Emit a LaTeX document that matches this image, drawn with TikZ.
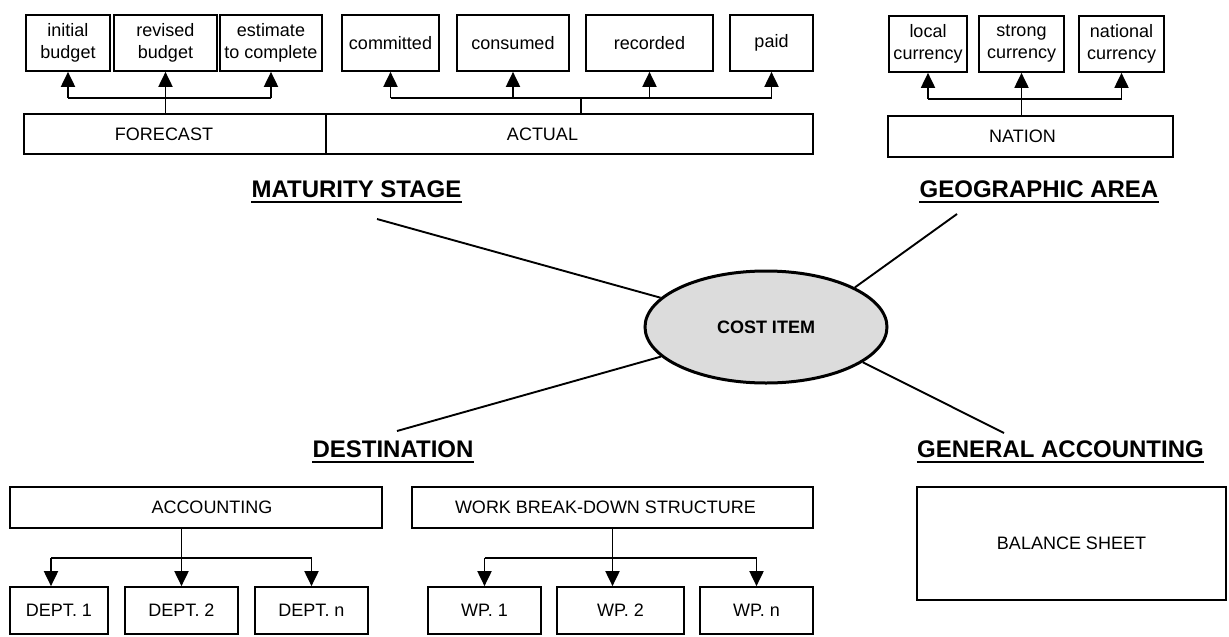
\documentclass[tikz,border=0pt]{standalone}
\usepackage{fontspec}
\setmainfont{Liberation Sans}
\usetikzlibrary{arrows.meta,calc,shapes.geometric}
\definecolor{ellgray}{HTML}{DCDCDC}
\begin{document}
\begin{tikzpicture}[x=1pt,y=-1pt,
  box/.style={draw,line width=1.7pt,inner sep=0pt,align=center,
    font=\fontsize{18}{22}\selectfont},
  lbl/.style={inner sep=0pt,font=\fontsize{18}{22}\selectfont},
  arr/.style={line width=1.9pt,-{Triangle[length=15pt,width=14pt]}},
  bus/.style={line width=1.9pt},
  link/.style={line width=1.9pt},
  head/.style={inner sep=0pt,anchor=base,font=\fontsize{24}{28}\selectfont\bfseries},
  uline/.style={line width=2pt}]
\useasboundingbox (0,0) rectangle (1229,637);

% ---------- maturity stage ----------
\node[box,minimum width=84,minimum height=56]  (ib) at (68,43)    {initial\\budget};
\node[box,minimum width=103,minimum height=56] (rb) at (165.5,43) {revised\\budget};
\node[box,minimum width=102,minimum height=56] (ec) at (271,43)   {estimate\\to complete};
\node[box,minimum width=97,minimum height=56]  (cm) at (390.5,43) {committed};
\node[box,minimum width=112,minimum height=56] (cs) at (513,43)   {consumed};
\node[box,minimum width=127,minimum height=56] (rc) at (649.5,43) {recorded};
\node[box,minimum width=83,minimum height=56]  (pd) at (771.5,43) {paid};
\node[box,minimum width=302,minimum height=40,
      label={[lbl,xshift=-11pt]center:FORECAST}] (fc) at (175,134) {};
\node[box,minimum width=487,minimum height=40,
      label={[lbl,xshift=-27pt]center:ACTUAL}] (ac) at (569.5,134) {};

\coordinate (fbus) at (0,98);
\draw[bus] (ib.south |- fbus) -- (ec.south |- fbus);
\draw[arr] (ib.south |- fbus) -- (ib.south);
\draw[arr] (fc.north -| rb.south) -- (rb.south);
\draw[arr] (ec.south |- fbus) -- (ec.south);

\draw[bus] (cm.south |- fbus) -- (pd.south |- fbus);
\coordinate (abus) at ($(cm.south |- fbus)!.5!(pd.south |- fbus)$);
\draw[bus] (ac.north -| abus) -- (abus);
\draw[arr] (cm.south |- fbus) -- (cm.south);
\draw[arr] (cs.south |- fbus) -- (cs.south);
\draw[arr] (rc.south |- fbus) -- (rc.south);
\draw[arr] (pd.south |- fbus) -- (pd.south);

% ---------- geographic area ----------
\node[box,minimum width=78,minimum height=56] (lc) at (928,44)    {local\\currency};
\node[box,minimum width=85,minimum height=56] (sc) at (1021.5,44) {strong\\currency};
\node[box,minimum width=85,minimum height=56] (nc) at (1121.5,44) {national\\currency};
\node[box,minimum width=285,minimum height=41,
      label={[lbl,xshift=-8pt]center:NATION}] (na) at (1030.5,136.5) {};

\coordinate (nbus) at (0,99);
\draw[bus] (lc.south |- nbus) -- (nc.south |- nbus);
\draw[arr] (lc.south |- nbus) -- (lc.south);
\draw[arr] (na.north -| sc.south) -- (sc.south);
\draw[arr] (nc.south |- nbus) -- (nc.south);

% ---------- destination ----------
\node[box,minimum width=372,minimum height=41,
      label={[lbl,xshift=16pt]center:ACCOUNTING}] (acc) at (196,507.5) {};
\node[box,minimum width=401,minimum height=41,
      label={[lbl,xshift=-7pt]center:WORK BREAK-DOWN STRUCTURE}] (wbs) at (612.5,507.5) {};
\node[box,minimum width=98,minimum height=47]  (d1) at (59,610.5)    {DEPT. 1};
\node[box,minimum width=113,minimum height=47] (d2) at (181.5,610.5) {DEPT. 2};
\node[box,minimum width=113,minimum height=47] (dn) at (311.5,610.5) {DEPT. n};
\node[box,minimum width=113,minimum height=47] (w1) at (484.5,610.5) {WP. 1};
\node[box,minimum width=127,minimum height=47] (w2) at (620.5,610.5) {WP. 2};
\node[box,minimum width=113,minimum height=47] (wn) at (756.5,610.5) {WP. n};

\coordinate (dbus) at (0,558);
\coordinate (d1in) at ($(d1.north)+(-8,0)$);
\draw[bus] (d1in |- dbus) -- (dn.north |- dbus);
\draw[arr] (d1in |- dbus) -- (d1in);
\draw[arr] (acc.south -| d2.north) -- (d2.north);
\draw[arr] (dn.north |- dbus) -- (dn.north);

\draw[bus] (w1.north |- dbus) -- (wn.north |- dbus);
\draw[arr] (w1.north |- dbus) -- (w1.north);
\draw[arr] (wbs.south) -- (wbs.south |- w2.north);
\draw[arr] (wn.north |- dbus) -- (wn.north);

% ---------- general accounting ----------
\node[box,minimum width=309,minimum height=113] (bs) at (1071.5,543.5) {BALANCE SHEET};

% ---------- headings ----------
\node[head] (hm) at (356.5,197)  {MATURITY STAGE};
\node[head] (hg) at (1039,197)   {GEOGRAPHIC AREA};
\node[head] (hd) at (393,457)    {DESTINATION};
\node[head] (ha) at (1060.5,457) {GENERAL ACCOUNTING};
\foreach \h in {hm,hg,hd,ha}
  \draw[uline] ($(\h.base west)+(0,4.5)$) -- ($(\h.base east)+(0,4.5)$);

% ---------- central item ----------
\node[ellipse,draw,line width=3pt,fill=ellgray,minimum width=242,minimum height=112,
      inner sep=0pt,font=\fontsize{18}{20}\selectfont\bfseries] (ci) at (766,327) {COST ITEM};

\coordinate (mstart) at (377,219);
\coordinate (gstart) at (957,214);
\coordinate (dend)   at (397,431);
\coordinate (aend)   at (1004,433);
\draw[link] (mstart) -- (ci);
\draw[link] (gstart) -- (ci.24);
\draw[link] (dend)   -- (ci);
\draw[link] (aend)   -- (ci.-20);
\end{tikzpicture}
\end{document}
